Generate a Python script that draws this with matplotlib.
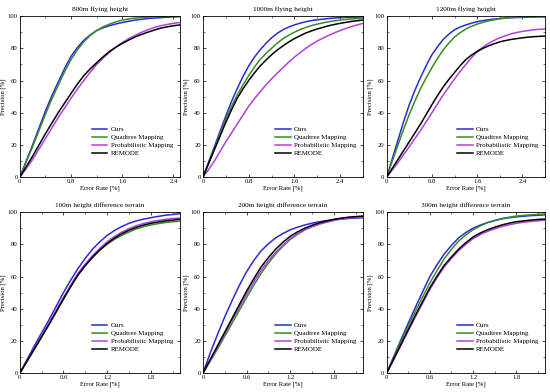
import matplotlib
matplotlib.use("Agg")
import matplotlib.pyplot as plt
from matplotlib.ticker import MultipleLocator

plt.rcParams["font.family"] = ["Liberation Serif", "DejaVu Serif"]

series_names = ["Ours", "Quadtree Mapping", "Probabilistic Mapping", "REMODE"]
colors = ["#2a2ad8", "#3a8a2a", "#b040e0", "#000000"]

# top row: flying height, x = 0..2.8 step 0.1
x_top = [0.0, 0.1, 0.2, 0.3, 0.4, 0.5, 0.6, 0.7, 0.8, 0.9, 1.0, 1.1, 1.2, 1.3, 1.4,
         1.5, 1.6, 1.7, 1.8, 1.9, 2.0, 2.1, 2.2, 2.3, 2.4, 2.5, 2.6, 2.7, 2.8]
# bottom row: terrain, x = 0..2.2 step 0.1
x_bot = [0.0, 0.1, 0.2, 0.3, 0.4, 0.5, 0.6, 0.7, 0.8, 0.9, 1.0, 1.1, 1.2, 1.3, 1.4,
         1.5, 1.6, 1.7, 1.8, 1.9, 2.0, 2.1, 2.2]

titles = ["800m flying height", "1000m flying height", "1200m flying height",
          "100m height difference terrain", "200m height difference terrain",
          "300m height difference terrain"]
xmax = [2.5, 2.8, 2.8, 2.2, 2.2, 2.2]
xstep = [0.8, 0.8, 0.8, 0.6, 0.6, 0.6]

# 800m
p800_ours = [0, 10, 20, 30.5, 41, 50.5, 59, 67.5, 75, 80.5, 85, 88.3, 91, 92.7, 94, 95.1,
             96, 96.8, 97.5, 98, 98.5, 98.8, 99, 99.3, 99.5, 99.6, 99.7, 99.7, 99.7]
p800_quad = [0, 9.5, 19, 29, 39, 48.5, 57, 65.5, 73, 79, 84, 88, 91, 93.3, 95, 96.4,
             97.5, 98.2, 98.8, 99.1, 99.4, 99.6, 99.7, 99.8, 99.8, 99.8, 99.8, 99.8, 99.8]
p800_prob = [0, 5.3, 11, 17.5, 24, 30.5, 37, 43, 49, 54.7, 60, 65.2, 70, 74, 77.5, 80.7,
             83.5, 85.9, 88, 89.9, 91.5, 92.9, 94, 94.8, 95.5, 96, 96.2, 96.4, 96.5]
p800_remo = [0, 6.5, 13, 20, 27, 33.5, 40, 46, 52, 57.8, 63, 67.3, 71, 74.7, 78, 80.7,
             83, 85.1, 87, 88.6, 90, 91.3, 92.5, 93.3, 94, 94.5, 94.7, 94.9, 95]
# 1000m
p1000_ours = [0, 9.5, 19, 28.5, 38, 47, 55, 62.5, 69, 74.5, 79, 83, 86.5, 89.3, 91.5, 93.2,
              94.5, 95.6, 96.5, 97.2, 97.7, 98.1, 98.5, 98.8, 99, 99.2, 99.3, 99.4, 99.5]
p1000_quad = [0, 9, 18, 27, 36, 44, 51, 57.3, 63, 68.3, 73, 76.7, 80, 83.2, 86, 88.1,
              90, 91.6, 93, 94.1, 95, 95.8, 96.5, 97, 97.5, 97.9, 98.2, 98.4, 98.6]
p1000_prob = [0, 4.8, 10, 16, 22, 27.5, 33, 38.5, 44, 48.7, 53, 57.2, 61, 64.6, 68, 71.4,
              74.5, 77.3, 80, 82.4, 84.5, 86.3, 88, 89.6, 91, 92.3, 93.5, 94.5, 95.5]
p1000_remo = [0, 8.5, 17, 25.5, 34, 41.8, 49, 54.8, 60, 64.7, 69, 72.6, 76, 78.9, 81.5, 83.9,
              86, 87.8, 89.5, 90.8, 92, 93, 94, 94.8, 95.5, 96.1, 96.7, 97.1, 97.5]
# 1200m
p1200_ours = [0, 11.5, 23, 34.5, 45, 54, 62, 69.3, 76, 81, 85.5, 88.8, 91.5, 93.2, 94.5, 95.6,
              96.5, 97.2, 97.7, 98.1, 98.5, 98.8, 99, 99.1, 99.2, 99.3, 99.4, 99.5, 99.5]
p1200_quad = [0, 10, 20, 29.7, 39, 47.3, 55, 61.7, 68, 73.8, 79, 83.3, 87, 89.7, 92, 93.6,
              95, 96.1, 97, 97.7, 98.3, 98.7, 99, 99.3, 99.5, 99.6, 99.7, 99.8, 99.8]
p1200_prob = [0, 4.5, 9, 14, 19, 24, 29, 34.5, 40, 45.5, 51, 56, 61, 65.7, 70, 74.2,
              78, 80.7, 83, 84.9, 86.5, 87.8, 89, 89.8, 90.5, 91, 91.5, 91.8, 92]
p1200_remo = [0, 5.5, 11, 16.5, 22, 27.5, 33, 39, 45, 50.7, 56, 60.7, 65, 69.2, 73, 75.8,
              78, 79.9, 81.5, 82.8, 84, 84.8, 85.5, 86, 86.5, 86.9, 87.2, 87.4, 87.6]
# 100m terrain
t100_ours = [0, 8.5, 17, 25, 33, 41.5, 50, 57.8, 65, 71.3, 77, 81.5, 85.5, 88.5, 91, 93,
             94.5, 95.6, 96.5, 97.3, 98, 98.5, 99]
t100_quad = [0, 7.5, 15, 22.8, 30.5, 38.5, 46.5, 54, 61, 66.8, 72, 76.3, 80, 83, 85.5, 87.6,
             89.5, 90.9, 92, 92.8, 93.5, 94, 94.3]
t100_prob = [0, 7.7, 15.5, 23.2, 31, 39, 47, 54.7, 62, 67.8, 73, 77.5, 81.5, 84.8, 87.5, 89.7,
             91.5, 92.9, 94, 94.8, 95.5, 96, 96.3]
t100_remo = [0, 7.5, 15, 22.5, 30, 38, 46, 53.7, 61, 66.8, 72, 76.5, 80.5, 83.8, 86.5, 88.7,
             90.5, 91.9, 93, 93.8, 94.5, 95, 95.5]
# 200m terrain
t200_ours = [0, 12.5, 24, 35, 45, 54.5, 63, 70, 76, 80.3, 84, 86.7, 89, 90.6, 92, 93.1,
             94, 94.7, 95.3, 95.7, 96, 96.3, 96.5]
t200_quad = [0, 7.5, 15, 23, 31, 39, 47, 54.7, 62, 68.3, 74, 78.8, 83, 86.2, 89, 91,
             92.8, 94.1, 95.2, 96, 96.6, 97, 97.3]
t200_prob = [0, 8, 16, 24.5, 33, 41, 49, 56.7, 64, 69.8, 75, 79.5, 83.5, 86.5, 89, 90.9,
             92.5, 93.7, 94.8, 95.6, 96.2, 96.6, 97]
t200_remo = [0, 8.5, 17, 25.5, 34, 42.5, 51, 58.7, 66, 71.8, 77, 81.3, 85, 87.7, 90, 91.8,
             93.3, 94.5, 95.5, 96.2, 96.8, 97.2, 97.5]
# 300m terrain
t300_ours = [0, 10.5, 21, 31, 41, 50.5, 60, 67.3, 74, 79.3, 84, 87.3, 90, 91.9, 93.5, 94.7,
             95.8, 96.5, 97, 97.4, 97.8, 98, 98.3]
t300_quad = [0, 10, 20, 29.3, 38.5, 47.3, 56, 63.7, 71, 76.8, 82, 85.8, 89, 91.4, 93.5, 94.8,
             96, 96.8, 97.5, 97.9, 98.3, 98.6, 98.8]
t300_prob = [0, 8.7, 17.5, 26.3, 35, 43.5, 52, 59.3, 66, 71.3, 76, 80, 83.5, 86, 88, 89.6,
             91, 92.1, 93, 93.7, 94.2, 94.6, 95]
t300_remo = [0, 9, 18, 27, 36, 44.5, 53, 60.3, 67, 72.2, 77, 81, 84.5, 87, 89, 90.6,
             92, 93.1, 94, 94.5, 95, 95.4, 95.7]

panels = [
    (x_top, [p800_ours, p800_quad, p800_prob, p800_remo]),
    (x_top, [p1000_ours, p1000_quad, p1000_prob, p1000_remo]),
    (x_top, [p1200_ours, p1200_quad, p1200_prob, p1200_remo]),
    (x_bot, [t100_ours, t100_quad, t100_prob, t100_remo]),
    (x_bot, [t200_ours, t200_quad, t200_prob, t200_remo]),
    (x_bot, [t300_ours, t300_quad, t300_prob, t300_remo]),
]

fig = plt.figure(figsize=(5.5, 3.92), dpi=100)
lefts = [0.036, 0.369, 0.703]
widths = [0.291, 0.291, 0.288]
bottoms = [0.548, 0.048]
height = 0.411

for i, (xs, ys) in enumerate(panels):
    r, c = divmod(i, 3)
    ax = fig.add_axes([lefts[c], bottoms[r], widths[c], height])
    for name, col, y in zip(series_names, colors, ys):
        ax.plot(xs, y, color=col, lw=1.1, label=name, solid_joinstyle="round")
    ax.set_xlim(0, xmax[i])
    ax.set_ylim(0, 100)
    ax.xaxis.set_major_locator(MultipleLocator(xstep[i]))
    ax.xaxis.set_minor_locator(MultipleLocator(xstep[i] / 2))
    ax.yaxis.set_major_locator(MultipleLocator(20))
    ax.yaxis.set_minor_locator(MultipleLocator(10))
    ax.xaxis.set_major_formatter(plt.FuncFormatter(lambda v, p: "0" if v == 0 else f"{v:.1f}"))
    ax.tick_params(which="both", direction="in", top=True, right=True, labelsize=4.8, pad=1.5)
    ax.tick_params(which="major", length=2.5, width=0.5)
    ax.tick_params(which="minor", length=1.3, width=0.4)
    for s in ax.spines.values():
        s.set_linewidth(0.6)
    ax.set_title(titles[i], fontsize=5.2, pad=4)
    ax.set_xlabel("Error Rate [%]", fontsize=4.8, labelpad=1)
    ax.set_ylabel("Precision [%]", fontsize=4.8, labelpad=1)
    ax.legend(loc="lower right", bbox_to_anchor=(0.99, 0.10), frameon=False,
              fontsize=5, handlelength=2.2, handletextpad=0.5, labelspacing=0.3,
              borderpad=0.2)

fig.savefig("out.png", dpi=100)
